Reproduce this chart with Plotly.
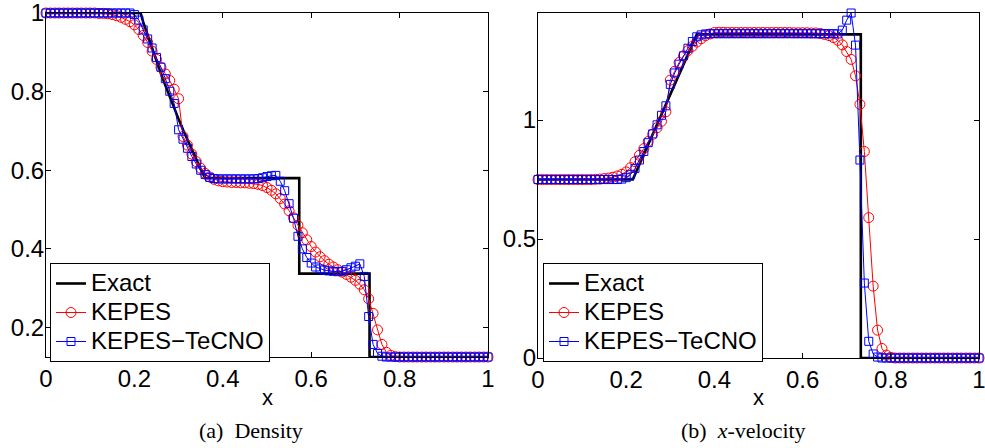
import plotly.graph_objects as go

# ---------------- data ----------------
x_cells = [i / 100 for i in range(101)]

# Density
rho_exact_x = [0.0, 0.214, 0.22, 0.23, 0.24, 0.25, 0.26, 0.27, 0.28, 0.29, 0.30,
               0.31, 0.32, 0.33, 0.34, 0.35, 0.36, 0.573, 0.573, 0.732, 0.732, 1.0]
rho_exact = [1.0, 1.0, 0.977, 0.943, 0.910, 0.878, 0.846, 0.816, 0.786, 0.758, 0.730,
             0.703, 0.677, 0.651, 0.627, 0.603, 0.580, 0.580, 0.337, 0.337, 0.125, 0.125]

rho_kepes = [1.0] * 12 + [
    0.999, 0.999, 0.998, 0.996, 0.993, 0.989, 0.984, 0.978,          # 0.12-0.19
    0.970, 0.958, 0.943, 0.925, 0.903, 0.882, 0.862, 0.845, 0.828, 0.806,  # 0.20-0.29
    0.782, 0.686, 0.664, 0.641, 0.622, 0.605, 0.592, 0.583, 0.577, 0.573,  # 0.30-0.39
    0.571, 0.570, 0.569, 0.569, 0.568, 0.568, 0.567, 0.566, 0.564, 0.561,  # 0.40-0.49
    0.556, 0.549, 0.540, 0.528, 0.514, 0.497, 0.479, 0.460, 0.441, 0.423,  # 0.50-0.59
    0.406, 0.392, 0.380, 0.370, 0.361, 0.354, 0.347, 0.341, 0.335, 0.328,  # 0.60-0.69
    0.320, 0.310, 0.296, 0.273, 0.236, 0.194, 0.157, 0.137, 0.129, 0.126,  # 0.70-0.79
] + [0.125] * 21

rho_tecno = [1.0] * 20 + [
    0.996, 0.982, 0.957, 0.934, 0.911, 0.887, 0.862, 0.833, 0.801, 0.770,  # 0.20-0.29
    0.703, 0.679, 0.656, 0.635, 0.616, 0.600, 0.589, 0.582, 0.579, 0.578,  # 0.30-0.39
    0.578, 0.578, 0.578, 0.578, 0.578, 0.578, 0.578, 0.578, 0.579, 0.581,  # 0.40-0.49
    0.584, 0.586, 0.587, 0.572, 0.548, 0.515, 0.478, 0.432, 0.400, 0.378,  # 0.50-0.59
    0.364, 0.354, 0.349, 0.346, 0.344, 0.343, 0.342, 0.343, 0.347, 0.352,  # 0.60-0.69
    0.356, 0.362, 0.330, 0.228, 0.157, 0.134, 0.127, 0.125, 0.125, 0.125,  # 0.70-0.79
] + [0.125] * 21

# x-velocity
u_exact_x = [0.0, 0.215, 0.36, 0.732, 0.732, 1.0]
u_exact = [0.75, 0.75, 1.36, 1.36, 0.0, 0.0]

u_kepes = [0.75] * 13 + [
    0.751, 0.752, 0.754, 0.756, 0.760, 0.765, 0.772,                  # 0.13-0.19
    0.782, 0.800, 0.825, 0.852, 0.880, 0.910, 0.940, 0.968, 0.995, 1.035,  # 0.20-0.29
    1.168, 1.205, 1.242, 1.270, 1.292, 1.310, 1.328, 1.342, 1.355, 1.362,  # 0.30-0.39
    1.368, 1.369, 1.369, 1.368, 1.368, 1.368, 1.368, 1.368, 1.368, 1.368,  # 0.40-0.49
    1.368, 1.368, 1.368, 1.368, 1.368, 1.368, 1.368, 1.368, 1.367, 1.367,  # 0.50-0.59
    1.367, 1.367, 1.366, 1.366, 1.364, 1.360, 1.355, 1.347, 1.335, 1.316,  # 0.60-0.69
    1.288, 1.255, 1.186, 1.066, 0.868, 0.590, 0.302, 0.117, 0.040, 0.012,  # 0.70-0.79
    0.003,
] + [0.0] * 20

u_tecno = [0.75] * 19 + [
    0.752,                                                            # 0.19
    0.758, 0.772, 0.797, 0.832, 0.868, 0.905, 0.942, 0.980, 1.020, 1.060,  # 0.20-0.29
    1.150, 1.198, 1.235, 1.270, 1.302, 1.330, 1.350, 1.358, 1.362, 1.363,  # 0.30-0.39
    1.363, 1.363, 1.363, 1.363, 1.363, 1.363, 1.363, 1.363, 1.363, 1.363,  # 0.40-0.49
    1.363, 1.363, 1.363, 1.363, 1.363, 1.363, 1.363, 1.363, 1.363, 1.363,  # 0.50-0.59
    1.363, 1.363, 1.363, 1.363, 1.363, 1.363, 1.363, 1.363, 1.362, 1.378,  # 0.60-0.69
    1.420, 1.450, 1.315, 0.832, 0.315, 0.070, 0.017, 0.004, 0.0, 0.0,      # 0.70-0.79
] + [0.0] * 21

x_ticks = [0, 0.2, 0.4, 0.6, 0.8, 1]
x_ticklabels = ["0", "0.2", "0.4", "0.6", "0.8", "1"]
rho_ticks = [0.2, 0.4, 0.6, 0.8, 1]
rho_ticklabels = ["0.2", "0.4", "0.6", "0.8", "1"]
u_ticks = [0, 0.5, 1]
u_ticklabels = ["0", "0.5", "1"]

legend_names = ["Exact", "KEPES", "KEPES\u2212TeCNO"]
captions = ["(a)&nbsp;&nbsp;Density", "(b)&nbsp;&nbsp;<i>x</i>-velocity"]

# ---------------- figure ----------------
W, H = 985, 448
SANS = "Liberation Sans, Arial, sans-serif"
SERIF = "Liberation Serif, Times New Roman, serif"


def big(s):
    return '<span style="font-size:24px">' + s + '</span>'


fig = go.Figure()


def add_panel(xa, ya, legend, ex_x, ex_y, k_y, t_y):
    fig.add_trace(go.Scatter(x=ex_x, y=ex_y, mode="lines", name=big(legend_names[0]),
                             line=dict(color="black", width=2.6),
                             xaxis=xa, yaxis=ya, legend=legend))
    fig.add_trace(go.Scatter(x=x_cells, y=k_y, mode="lines+markers", name=big(legend_names[1]),
                             line=dict(color="#ff0000", width=1),
                             marker=dict(symbol="circle-open", size=10, color="#ff0000",
                                         line=dict(width=1, color="#ff0000")),
                             cliponaxis=False, xaxis=xa, yaxis=ya, legend=legend))
    fig.add_trace(go.Scatter(x=x_cells, y=t_y, mode="lines+markers", name=big(legend_names[2]),
                             line=dict(color="#0000ff", width=1),
                             marker=dict(symbol="square-open", size=8, color="#0000ff",
                                         line=dict(width=1, color="#0000ff")),
                             cliponaxis=False, xaxis=xa, yaxis=ya, legend=legend))


add_panel("x", "y", "legend", rho_exact_x, rho_exact, rho_kepes, rho_tecno)
add_panel("x2", "y2", "legend2", u_exact_x, u_exact, u_kepes, u_tecno)

axis_common = dict(showline=True, linecolor="black", linewidth=1, mirror="ticks",
                   ticks="inside", ticklen=5, tickcolor="black", tickwidth=1,
                   showgrid=False, zeroline=False, automargin=False,
                   ticklabeloverflow="allow",
                   tickfont=dict(family=SANS, size=24, color="black"))

L1, R1 = 46 / W, 488 / W
L2, R2 = 538 / W, 979 / W
TOP = 1 - 13 / H
B1 = 1 - 357 / H
B2 = 1 - 358 / H

legend_common = dict(xanchor="left", yanchor="top",
                     bgcolor="white", bordercolor="black", borderwidth=1,
                     font=dict(family=SANS, size=20, color="black"),
                     tracegroupgap=0)

fig.update_layout(
    width=W, height=H,
    margin=dict(l=0, r=0, t=0, b=0, autoexpand=False),
    paper_bgcolor="white", plot_bgcolor="white",
    showlegend=True,
    xaxis=dict(domain=[L1, R1], range=[0, 1.00001], tickvals=x_ticks, ticktext=x_ticklabels,
               anchor="y", **axis_common),
    yaxis=dict(domain=[B1, TOP], range=[0.125, 1.00001], tickvals=rho_ticks,
               ticktext=rho_ticklabels, anchor="x", ticklabelstandoff=-4, **axis_common),
    xaxis2=dict(domain=[L2, R2], range=[0, 1.00001], tickvals=x_ticks, ticktext=x_ticklabels,
                anchor="y2", **axis_common),
    yaxis2=dict(domain=[B2, TOP], range=[0, 1.45], tickvals=u_ticks,
                ticktext=u_ticklabels, anchor="x2", ticklabelstandoff=-4, **axis_common),
    legend=dict(x=50 / W, y=1 - 263 / H, **legend_common),
    legend2=dict(x=543 / W, y=1 - 263 / H, **legend_common),
)

# axis titles "x"
for cx in [(L1 + R1) / 2, (L2 + R2) / 2]:
    fig.add_annotation(x=cx, y=1 - 397 / H, xref="paper", yref="paper",
                       text="x", showarrow=False, xanchor="center", yanchor="middle",
                       font=dict(family=SANS, size=22, color="black"))

# captions
for cx, txt in zip([251 / W, 743 / W], captions):
    fig.add_annotation(x=cx, y=1 - 430 / H, xref="paper", yref="paper",
                       text=txt, showarrow=False, xanchor="center", yanchor="middle",
                       font=dict(family=SERIF, size=22, color="black"))

fig.write_html("out.html",
               config={"displayModeBar": False},
               post_script="document.body.style.margin='0';document.body.style.overflow='hidden';")
